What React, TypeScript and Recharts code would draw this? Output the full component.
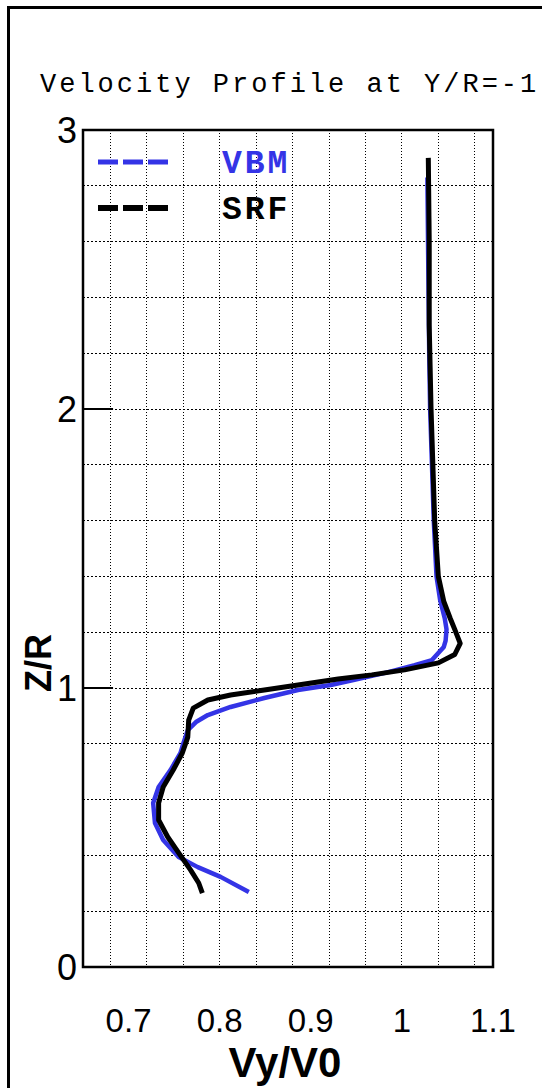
import { LineChart, Line, XAxis, YAxis, CartesianGrid, ReferenceArea, ReferenceLine, Legend, Label } from "recharts"

// axis ticks and grid positions
const xTicks = [0.7, 0.8, 0.9, 1, 1.1]
const yTicks = [0, 1, 2, 3]
const xGridLines = [0.66, 0.68, 0.7, 0.72, 0.74, 0.76, 0.78, 0.8, 0.82, 0.84, 0.86, 0.88, 0.9, 0.92, 0.94, 0.96, 0.98, 1.0, 1.02, 1.04, 1.06, 1.08]
const yGridLines = [0.2, 0.4, 0.6, 0.8, 1.0, 1.2, 1.4, 1.6, 1.8, 2.0, 2.2, 2.4, 2.6, 2.8]
const legendOrder = ["VBM", "SRF"]

// VBM profile (Vy/V0 vs Z/R), top to bottom
const vbmV = [1.028, 1.029, 1.03, 1.031, 1.033, 1.035, 1.038, 1.042, 1.047, 1.049, 1.048, 1.046, 1.033, 1.014, 0.985, 0.948, 0.922, 0.886, 0.849, 0.812, 0.787, 0.774, 0.765, 0.76, 0.757, 0.746, 0.733, 0.727, 0.729, 0.738, 0.755, 0.776, 0.801, 0.832]
const vbmZ = [2.83, 2.5, 2.2, 2.0, 1.8, 1.6, 1.4, 1.315, 1.25, 1.21, 1.17, 1.147, 1.1, 1.082, 1.057, 1.029, 1.011, 0.993, 0.964, 0.932, 0.903, 0.878, 0.849, 0.8, 0.767, 0.706, 0.645, 0.588, 0.516, 0.455, 0.394, 0.358, 0.323, 0.269]

// SRF profile
const srfV = [1.029, 1.03, 1.03, 1.032, 1.034, 1.036, 1.04, 1.046, 1.053, 1.058, 1.064, 1.058, 1.04, 1.003, 0.967, 0.93, 0.886, 0.849, 0.812, 0.787, 0.771, 0.766, 0.765, 0.759, 0.749, 0.738, 0.733, 0.733, 0.743, 0.755, 0.768, 0.777, 0.781]
const srfZ = [2.9, 2.6, 2.3, 2.0, 1.8, 1.6, 1.4, 1.31, 1.25, 1.21, 1.16, 1.12, 1.09, 1.065, 1.047, 1.032, 1.011, 0.993, 0.975, 0.957, 0.928, 0.885, 0.824, 0.767, 0.706, 0.645, 0.588, 0.527, 0.466, 0.409, 0.348, 0.301, 0.265]

const vbmData = vbmV.map((v, i) => ({ v, z: vbmZ[i] }))
const srfData = srfV.map((v, i) => ({ v, z: srfZ[i] }))

const sansFont = "'Liberation Sans', Arial, sans-serif"
const monoFont = "'Liberation Mono', 'DejaVu Sans Mono', monospace"

function LegendBox(props: any) {
  const items = [...(props.payload || [])].sort(
    (a: any, b: any) => legendOrder.indexOf(a.value) - legendOrder.indexOf(b.value)
  )
  return (
    <svg width={220} height={95}>
      {items.map((item: any, i: number) => (
        <g key={item.value}>
          <line x1={3} x2={73} y1={22 + i * 46} y2={22 + i * 46} stroke={item.color} strokeWidth={i === 0 ? 5 : 6} strokeDasharray="20 5" />
          <text x={127} y={33 + i * 46} fill={item.color} fontFamily={monoFont} fontWeight="bold" fontSize={33} letterSpacing={3}>
            {item.value}
          </text>
        </g>
      ))}
    </svg>
  )
}

export default function App() {
  return (
    <div style={{ position: "absolute", left: 0, top: 0, width: 542, height: 1088, overflow: "hidden", background: "#fff" }}>
      <div style={{ position: "absolute", left: 7, top: 6, width: 600, height: 1200, borderLeft: "3px solid #000", borderTop: "3px solid #000" }} />
      <svg style={{ position: "absolute", left: 0, top: 0 }} width={542} height={120}>
        <text x={40} y={92} fontFamily={monoFont} fontSize={27} letterSpacing={3} fill="#000">
          Velocity Profile at Y/R=-1
        </text>
      </svg>
      <div style={{ position: "absolute", left: 0, top: 0 }}>
        <LineChart width={542} height={1088} margin={{ top: 130, right: 49, bottom: 61, left: 43 }}>
          <CartesianGrid horizontal={false} verticalValues={xGridLines} stroke="#000" strokeDasharray="1 2" shapeRendering="crispEdges" />
          <CartesianGrid vertical={false} horizontalValues={yGridLines} stroke="#000" strokeDasharray="2 2" shapeRendering="crispEdges" />
          <XAxis
            dataKey="v"
            type="number"
            domain={[0.65, 1.1]}
            ticks={xTicks}
            height={60}
            tickSize={0}
            tickMargin={42}
            axisLine={false}
            tickLine={false}
            allowDataOverflow
            tick={{ fontSize: 33, fontFamily: sansFont, fill: "#000" }}
          >
            <Label
              content={() => (
                <text x={285} y={1077} textAnchor="middle" fontFamily={sansFont} fontWeight="bold" fontSize={42} fill="#000">
                  Vy/V0
                </text>
              )}
            />
          </XAxis>
          <YAxis
            type="number"
            domain={[0, 3]}
            ticks={yTicks}
            width={40}
            tickSize={0}
            tickMargin={6}
            axisLine={false}
            tickLine={false}
            allowDataOverflow
            tick={{ fontSize: 36, fontFamily: sansFont, fill: "#000" }}
          >
            <Label
              content={() => (
                <text x={51} y={663} transform="rotate(-90 51 663)" textAnchor="middle" fontFamily={sansFont} fontWeight="bold" fontSize={36} fill="#000">
                  Z/R
                </text>
              )}
            />
          </YAxis>
          <ReferenceLine segment={[{ x: 0.65, y: 1 }, { x: 0.683, y: 1 }]} stroke="#000" strokeWidth={2} />
          <ReferenceLine segment={[{ x: 0.65, y: 2 }, { x: 0.683, y: 2 }]} stroke="#000" strokeWidth={2} />
          <ReferenceArea x1={0.65} x2={1.1} y1={0} y2={3} fill="none" fillOpacity={0} stroke="#000" strokeWidth={2.5} />
          <Legend
            layout="horizontal"
            verticalAlign="middle"
            align="center"
            wrapperStyle={{ left: 95, top: 140, width: 220, height: 95 }}
            content={LegendBox}
          />
          <Line
            data={vbmData}
            dataKey="z"
            name="VBM"
            type="linear"
            stroke="#3434e6"
            strokeWidth={4.5}
            strokeLinejoin="round"
            dot={false}
            activeDot={false}
            isAnimationActive={false}
          />
          <Line
            data={srfData}
            dataKey="z"
            name="SRF"
            type="linear"
            stroke="#000"
            strokeWidth={5}
            strokeLinejoin="round"
            dot={false}
            activeDot={false}
            isAnimationActive={false}
          />
        </LineChart>
      </div>
    </div>
  )
}
